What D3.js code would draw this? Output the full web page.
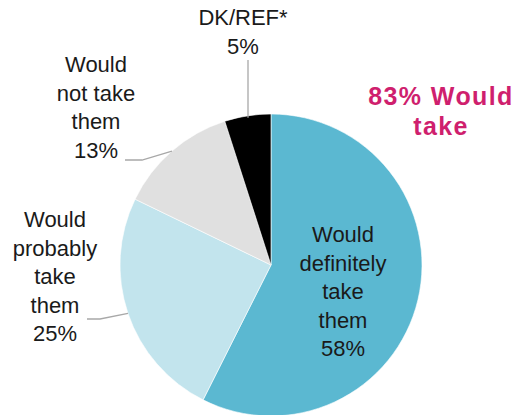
<!DOCTYPE html>
<html>
<head>
<meta charset="utf-8">
<script src="https://cdn.jsdelivr.net/npm/d3@7"></script>
<style>
  body { margin: 0; background: #fff; }
  svg text { font-family: "Helvetica Neue", "Liberation Sans", Arial, sans-serif; }
</style>
</head>
<body>
<svg id="chart" width="515" height="415"></svg>
<script>
// answers, clockwise from the top
var categories = ["Would definitely take them", "Would probably take them", "Would not take them", "DK/REF*"];
var values = [58, 25, 13, 5];
var labelLines = [
  ["Would", "definitely", "take", "them", "58%"],
  ["Would", "probably", "take", "them", "25%"],
  ["Would", "not take", "them", "13%"],
  ["DK/REF*", "5%"]
];
var colors = ["#5bb8d1", "#c2e4ed", "#e0e0e0", "#000000"];
var headline = ["83% Would", "take"];

var svg = d3.select("#chart");
var cx = 271, cy = 265, r = 151;
var lineH = 28.6;

var pie = d3.pie().sort(null).value(d => d);
var arc = d3.arc().innerRadius(0).outerRadius(r);
var arcs = pie(values);

var g = svg.append("g").attr("transform", "translate(" + cx + "," + cy + ")");

g.selectAll("path")
  .data(arcs)
  .enter()
  .append("path")
  .attr("d", arc)
  .attr("fill", (d, i) => colors[i])
  .attr("stroke", "#fff")
  .attr("stroke-width", 0.6);

// where each label sits (x centre, first baseline) and how its leader runs
var labelPos = [
  { x: 343, y: 242, leader: null },
  { x: 55, y: 227, leader: [[87, 319], [100, 319]] },
  { x: 96, y: 72, leader: [[125, 160], [142, 160]] },
  { x: 243, y: 25, leader: [[248, 60]] }
];

function edgePoint(d) {
  var a = (d.startAngle + d.endAngle) / 2;
  return [cx + r * Math.sin(a), cy - r * Math.cos(a)];
}

arcs.forEach(function (d, i) {
  var p = labelPos[i];
  if (p.leader) {
    var pts = p.leader.slice();
    var e = edgePoint(d);
    if (i == 3) e = [pts[0][0], e[1] + 2];
    pts.push(e);
    svg.append("path")
      .attr("d", d3.line()(pts))
      .attr("fill", "none")
      .attr("stroke", "#a8a8a8")
      .attr("stroke-width", 1.3);
  }
  var t = svg.append("text")
    .attr("text-anchor", "middle")
    .attr("font-size", 22)
    .attr("font-weight", 300)
    .attr("fill", "#1a1a1a");
  labelLines[i].forEach(function (s, k) {
    t.append("tspan").attr("x", p.x).attr("y", p.y + k * lineH).text(s);
  });
});

var h = svg.append("text")
  .attr("text-anchor", "middle")
  .attr("font-size", 25)
  .attr("font-weight", "bold")
  .attr("letter-spacing", 1.4)
  .attr("fill", "#cf1f6e");
headline.forEach(function (s, k) {
  h.append("tspan").attr("x", 441).attr("y", 105 + k * 30).text(s);
});
</script>
</body>
</html>
